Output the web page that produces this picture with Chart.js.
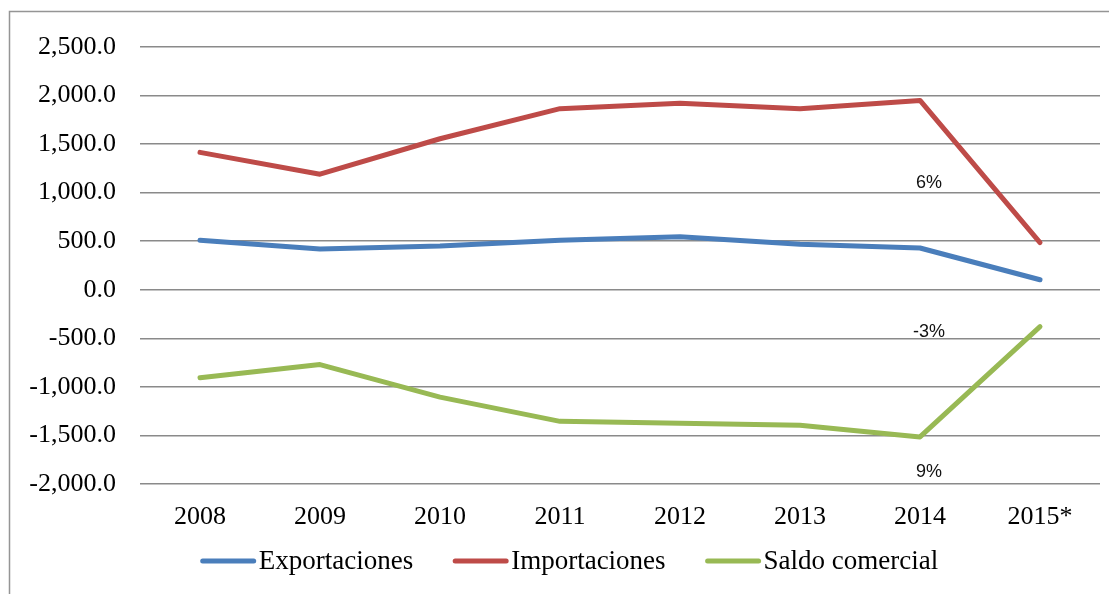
<!DOCTYPE html>
<html>
<head>
<meta charset="utf-8">
<script src="https://cdn.jsdelivr.net/npm/chart.js@4/dist/chart.umd.min.js"></script>
<style>
  html, body { margin: 0; padding: 0; background: #fff; }
  #wrap { width: 1109px; height: 594px; position: relative; }
</style>
</head>
<body>
<div id="wrap"><canvas id="chart"></canvas></div>
<script>
// data
const years = ["2008", "2009", "2010", "2011", "2012", "2013", "2014", "2015*"];
const exportaciones = [510, 420, 450, 510, 545, 470, 430, 103];
const importaciones = [1415, 1190, 1555, 1865, 1920, 1865, 1950, 485];
const saldoComercial = [-905, -770, -1105, -1355, -1375, -1395, -1515, -380];

// percent labels sitting next to the 2014 point
const noteLabels = ["6%", "-3%", "9%"];
const noteValues = [1100, -430, -1880];
const noteCategory = "2014";

const serif = "'Liberation Serif', 'Times New Roman', serif";
const sans = "'Liberation Sans', Arial, sans-serif";

const frame = {
  id: "frame",
  beforeDraw(chart) {
    const c = chart.ctx;
    c.save();
    c.strokeStyle = "#959595";
    c.lineWidth = 1.5;
    c.beginPath();
    c.moveTo(9.5, chart.height);
    c.lineTo(9.5, 11.5);
    c.lineTo(chart.width, 11.5);
    c.stroke();
    c.restore();
  },
};

const notes = {
  id: "notes",
  afterDatasetsDraw(chart) {
    const c = chart.ctx;
    const x = chart.scales.x.getPixelForValue(years.indexOf(noteCategory)) + 9;
    c.save();
    c.font = "18px " + sans;
    c.fillStyle = "#111";
    c.textAlign = "center";
    c.textBaseline = "middle";
    noteLabels.forEach((t, i) => {
      c.fillText(t, x, chart.scales.y.getPixelForValue(noteValues[i]));
    });
    c.restore();
  },
};

// legend drawn by hand: line swatch hugging its text, wide gaps between items
const legendRow = {
  id: "legendRow",
  afterDraw(chart) {
    const c = chart.ctx;
    const sw = 55, gapText = 3, gapItem = 40;
    const y = chart.chartArea.bottom + 77;
    c.save();
    c.font = "27px " + serif;
    const items = chart.data.datasets.map(ds => ({ ds, w: c.measureText(ds.label).width }));
    const total = items.reduce((s, it) => s + sw + gapText + it.w, 0) + gapItem * (items.length - 1);
    let x = (chart.width + 30) / 2 - total / 2;
    c.textBaseline = "middle";
    c.textAlign = "left";
    items.forEach(it => {
      c.strokeStyle = it.ds.borderColor;
      c.lineWidth = 5;
      c.lineCap = "round";
      c.beginPath();
      c.moveTo(x + 2, y);
      c.lineTo(x + sw - 2, y);
      c.stroke();
      x += sw + gapText;
      c.fillStyle = "#000";
      c.fillText(it.ds.label, x, y + 1);
      x += it.w + gapItem;
    });
    c.restore();
  },
};

const line = (label, data, color) => ({
  label: label,
  data: data,
  borderColor: color,
  backgroundColor: color,
  borderWidth: 5,
  pointRadius: 0,
  pointHoverRadius: 0,
  tension: 0,
  borderCapStyle: "round",
  borderJoinStyle: "round",
  fill: false,
});

new Chart(document.getElementById("chart"), {
  type: "line",
  data: {
    labels: years,
    datasets: [
      line("Exportaciones", exportaciones, "#4a7ebb"),
      line("Importaciones", importaciones, "#be4b48"),
      line("Saldo comercial", saldoComercial, "#98b954"),
    ],
  },
  options: {
    responsive: true,
    maintainAspectRatio: false,
    animation: false,
    layout: { padding: { top: 47, left: 20, right: 9, bottom: 70 } },
    plugins: {
      tooltip: { enabled: false },
      legend: { display: false },
    },
    scales: {
      x: {
        offset: true,
        afterFit: (scale) => { scale.height = 40; },
        grid: { display: false, drawTicks: false },
        border: { display: false },
        ticks: {
          font: { family: serif, size: 26 },
          color: "#000",
          padding: 18,
          maxRotation: 0,
        },
      },
      y: {
        min: -2000,
        max: 2500,
        afterFit: (scale) => { scale.width = 120; },
        grid: { color: "#8a8a8a", lineWidth: 1.6, drawTicks: false },
        border: { display: false },
        ticks: {
          stepSize: 500,
          padding: 24,
          font: { family: serif, size: 26 },
          color: "#000",
          callback: (v) => v.toLocaleString("en-US", { minimumFractionDigits: 1, maximumFractionDigits: 1 }),
        },
      },
    },
  },
  plugins: [frame, notes, legendRow],
});
</script>
</body>
</html>
